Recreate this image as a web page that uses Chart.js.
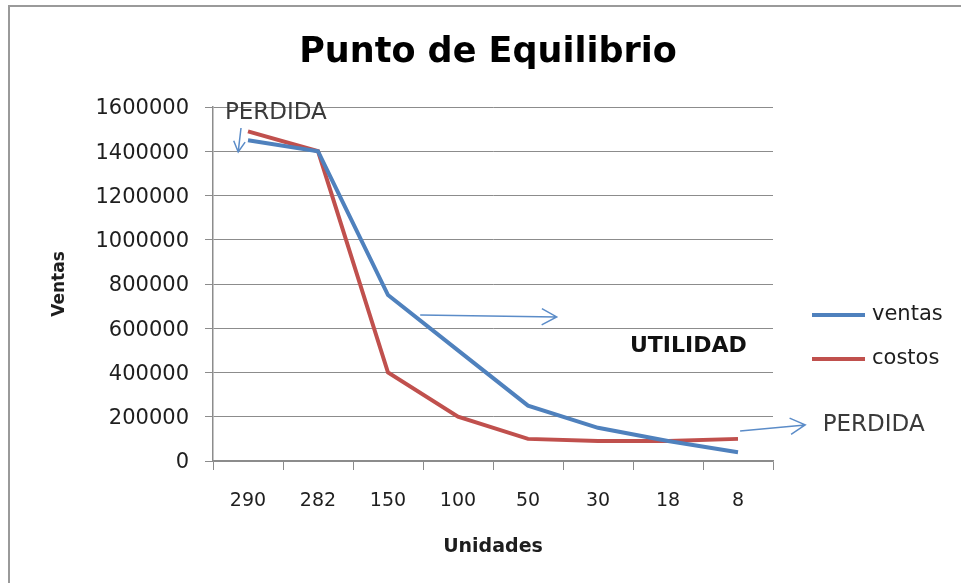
<!DOCTYPE html>
<html>
<head>
<meta charset="utf-8">
<title>Punto de Equilibrio</title>
<script src="https://cdn.jsdelivr.net/npm/chart.js@4.4.0/dist/chart.umd.min.js"></script>
<style>
    html, body { margin: 0; padding: 0; background: #FFFFFF; }
    #wrap { position: relative; width: 961px; height: 583px; }
</style>
</head>
<body>
<div id="wrap"><canvas id="equilibrioChart" width="961" height="583"></canvas></div>
<script>
// Datos
const unidades = ['290', '282', '150', '100', '50', '30', '18', '8'];
const ventas = [1450000, 1400000, 750000, 500000, 250000, 150000, 90000, 40000];
const costos = [1490000, 1400000, 400000, 200000, 100000, 90000, 90000, 100000];
const yMin = 0;
const yMax = 1600000;
const yStep = 200000;

const colores = {
    ventas: '#4F81BD',
    costos: '#C0504D',
    grid: '#8C8C8C',
    text: '#1E1E1E',
    flecha: '#5B8CC8'
};

// Notas sobre el grafico (posicion en unidades de los ejes: indice de categoria, valor)
const textos = [
    { text: 'PERDIDA', i: -0.33, v: 1573000, bold: false, align: 'left' },
    { text: 'UTILIDAD', i: 6.29, v: 520000, bold: true, align: 'center' },
    { text: 'PERDIDA', i: 8.21, v: 163000, bold: false, align: 'left' }
];
const flechas = [
    { from: [-0.10, 1505000], to: [-0.14, 1397000], head: 12 },
    { from: [2.46, 660000], to: [4.41, 651000], head: 17 },
    { from: [7.03, 136000], to: [7.96, 163000], head: 17 }
];

const FONT = '"DejaVu Sans", Verdana, sans-serif';

// Marco, titulo, leyenda y notas
const extrasPlugin = {
    id: 'extras',
    beforeDraw(chart) {
        const ctx = chart.ctx;
        ctx.save();
        ctx.strokeStyle = '#9A9A9A';
        ctx.lineWidth = 2;
        ctx.beginPath();
        ctx.moveTo(9, chart.height);
        ctx.lineTo(9, 6);
        ctx.lineTo(chart.width, 6);
        ctx.stroke();
        ctx.restore();
    },
    afterDraw(chart) {
        const ctx = chart.ctx;
        const x = chart.scales.x;
        const y = chart.scales.y;
        const area = chart.chartArea;
        ctx.save();

        // titulo
        ctx.fillStyle = '#000000';
        ctx.font = 'bold 35px ' + FONT;
        ctx.textAlign = 'center';
        ctx.textBaseline = 'middle';
        ctx.fillText('Punto de Equilibrio', 488, 53);

        // leyenda
        const series = [
            { label: 'ventas', color: colores.ventas },
            { label: 'costos', color: colores.costos }
        ];
        ctx.font = '21px ' + FONT;
        ctx.textAlign = 'left';
        series.forEach((s, k) => {
            const ly = area.top + 208 + k * 44;
            ctx.strokeStyle = s.color;
            ctx.lineWidth = 4;
            ctx.beginPath();
            ctx.moveTo(area.right + 39, ly);
            ctx.lineTo(area.right + 92, ly);
            ctx.stroke();
            ctx.fillStyle = colores.text;
            ctx.fillText(s.label, area.right + 99, ly);
        });

        // flechas
        ctx.strokeStyle = colores.flecha;
        ctx.lineWidth = 1.5;
        flechas.forEach(f => {
            const x1 = x.getPixelForValue(f.from[0]);
            const y1 = y.getPixelForValue(f.from[1]);
            const x2 = x.getPixelForValue(f.to[0]);
            const y2 = y.getPixelForValue(f.to[1]);
            const ang = Math.atan2(y2 - y1, x2 - x1);
            ctx.beginPath();
            ctx.moveTo(x1, y1);
            ctx.lineTo(x2, y2);
            ctx.moveTo(x2 - f.head * Math.cos(ang - 0.5), y2 - f.head * Math.sin(ang - 0.5));
            ctx.lineTo(x2, y2);
            ctx.lineTo(x2 - f.head * Math.cos(ang + 0.5), y2 - f.head * Math.sin(ang + 0.5));
            ctx.stroke();
        });

        // textos
        ctx.textBaseline = 'middle';
        textos.forEach(t => {
            ctx.font = (t.bold ? 'bold 22px ' : '23px ') + FONT;
            ctx.fillStyle = t.bold ? '#111111' : '#3A3A3A';
            ctx.textAlign = t.align;
            ctx.fillText(t.text, x.getPixelForValue(t.i), y.getPixelForValue(t.v));
        });
        ctx.restore();
    }
};

new Chart(document.getElementById('equilibrioChart'), {
    type: 'line',
    data: {
        labels: unidades,
        datasets: [{
            label: 'ventas',
            data: ventas,
            borderColor: colores.ventas,
            backgroundColor: colores.ventas,
            borderWidth: 4,
            pointRadius: 0,
            tension: 0
        }, {
            label: 'costos',
            data: costos,
            borderColor: colores.costos,
            backgroundColor: colores.costos,
            borderWidth: 4,
            pointRadius: 0,
            tension: 0
        }]
    },
    options: {
        responsive: false,
        animation: false,
        layout: {
            padding: { left: 0, right: 188, top: 107, bottom: 22 }
        },
        plugins: {
            legend: { display: false },
            title: { display: false },
            tooltip: { enabled: false }
        },
        scales: {
            x: {
                offset: true,
                afterFit: function(scale) { scale.height = 100; },
                grid: {
                    display: true,
                    offset: true,
                    drawOnChartArea: false,
                    tickLength: 9,
                    color: colores.grid
                },
                border: { color: colores.grid, width: 1.5 },
                ticks: {
                    padding: 20,
                    color: colores.text,
                    font: { family: FONT, size: 19 }
                },
                title: {
                    display: true,
                    text: 'Unidades',
                    color: colores.text,
                    font: { family: FONT, size: 19, weight: 'bold' },
                    padding: { top: 4, bottom: 3 }
                }
            },
            y: {
                min: yMin,
                max: yMax,
                afterFit: function(scale) { scale.width = 213; },
                grid: {
                    color: colores.grid,
                    tickLength: 8
                },
                border: { color: colores.grid, width: 1.5 },
                ticks: {
                    stepSize: yStep,
                    padding: 16,
                    labelOffset: 2,
                    color: colores.text,
                    font: { family: FONT, size: 21 },
                    callback: function(value) { return String(value); }
                },
                title: {
                    display: true,
                    text: 'Ventas',
                    color: colores.text,
                    font: { family: FONT, size: 17, weight: 'bold' },
                    padding: { top: 49, bottom: 0 }
                }
            }
        }
    },
    plugins: [extrasPlugin]
});
</script>
</body>
</html>
